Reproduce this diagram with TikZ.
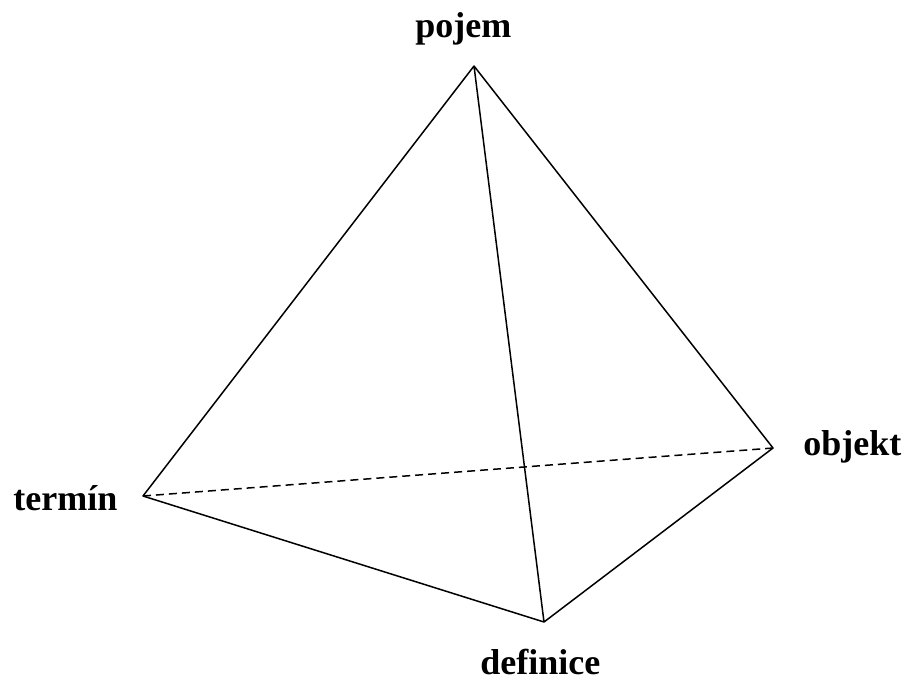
\documentclass[tikz,border=0pt]{standalone}
\usepackage{fontspec}
\setmainfont{Liberation Serif}
\usetikzlibrary{positioning}
\tikzset{
  edgeline/.style={draw=black,line width=0.75pt,line join=round},
  hiddenline/.style={edgeline,dashed,dash pattern=on 4pt off 2.5pt},
  vertexlabel/.style={font=\fontsize{18}{21}\selectfont\bfseries,inner sep=0pt},
}
\begin{document}
\begin{tikzpicture}[x=0.5pt,y=-0.5pt]
  \useasboundingbox (0,0) rectangle (906,682);
  % vertices
  \coordinate (apex) at (474,66);
  \coordinate (left) at (143,496);
  \coordinate (right) at (773,448);
  \coordinate (front) at (544,622);
  % labels
  \node[vertexlabel,anchor=base west] (pojem) at (415,37) {pojem};
  \node[vertexlabel,anchor=base west] (termin) at (13,510) {termín};
  \node[vertexlabel,anchor=base west] (objekt) at (803,455) {objekt};
  \node[vertexlabel,anchor=base west] (definice) at (480,674) {definice};
  % edges
  \draw[edgeline] (apex) -- (left) -- (front) -- (right) -- (apex) -- (front);
  \draw[hiddenline] (left) -- (right);
\end{tikzpicture}
\end{document}
